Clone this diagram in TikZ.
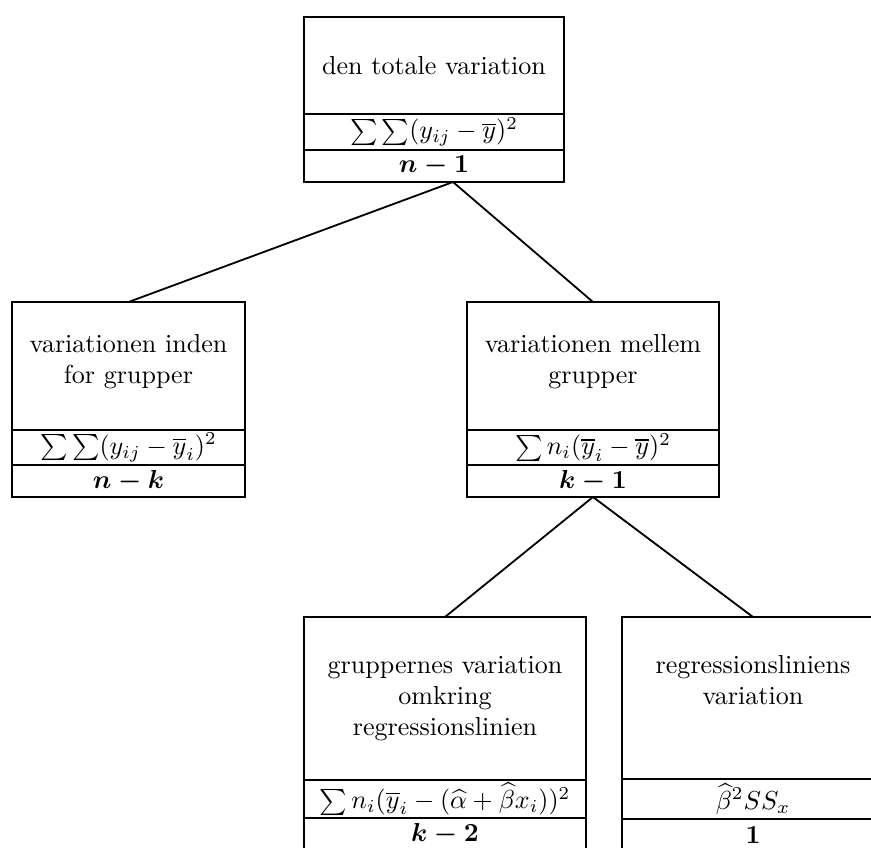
\documentclass[tikz,border=0pt]{standalone}
\usepackage{amsmath,amssymb}
\usetikzlibrary{positioning}
\newcommand\pxu{0.384pt}

\begin{document}
\begin{tikzpicture}[x=\pxu,y=-\pxu,
  varbox/.style={draw,line width=0.7pt,inner sep=0pt,outer sep=0pt,align=center},
  titlebox/.style 2 args={varbox,anchor=north,minimum width=#1*\pxu,minimum height=#2*\pxu},
  sumbox/.style 2 args={varbox,minimum width=#1*\pxu,minimum height=#2*\pxu},
  dfbox/.style={varbox,minimum width=#1*\pxu,minimum height=32*\pxu,font=\boldmath},
  link/.style={line width=0.7pt}]
\useasboundingbox (0,0) rectangle (871,848);
\clip (0,0) rectangle (871,848);
% total
\node[titlebox={260}{97}] (total) at (434,17) {den totale variation};
\node[sumbox={260}{36},below=0pt of total] (total-ss) {$\sum\sum(y_{ij}-\overline{y})^2$};
\node[dfbox=260,below=0pt of total-ss] (total-df) {$n-1$};
% within groups
\node[titlebox={233}{128},text depth=14*\pxu] (within) at (128.5,302) {variationen inden\\for grupper};
\node[sumbox={233}{35},below=0pt of within] (within-ss) {$\sum\sum(y_{ij}-\overline{y}_i)^2$};
\node[dfbox=233,below=0pt of within-ss] (within-df) {$n-k$};
% between groups
\node[titlebox={252}{128},text depth=14*\pxu] (between) at (593,302) {variationen mellem\\grupper};
\node[sumbox={252}{35},below=0pt of between] (between-ss) {$\sum n_i(\overline{y}_i-\overline{y})^2$};
\node[dfbox=252,below=0pt of between-ss] (between-df) {$k-1$};
% around the regression line
\node[titlebox={282}{163}] (residual) at (445,617) {gruppernes variation\\omkring\\regressionslinien};
\node[sumbox={282}{38},below=0pt of residual] (residual-ss) {$\sum n_i(\overline{y}_i-(\widehat{\alpha}+\widehat{\beta}x_i))^2$};
\node[dfbox=282,below=0pt of residual-ss] (residual-df) {$k-2$};
% regression line
\node[titlebox={262}{162},text depth=36*\pxu] (regression) at (753,617) {regressionsliniens\\variation};
\node[sumbox={262}{40},below=0pt of regression] (regression-ss) {$\widehat{\beta}^2 SS_x$};
\node[dfbox=262,below=0pt of regression-ss] (regression-df) {$1$};
% connectors
\coordinate (fork) at ([xshift=19*\pxu]total-df.south);
\draw[link] (fork) -- (within.north);
\draw[link] (fork) -- (between.north);
\draw[link] (between-df.south) -- (residual.north);
\draw[link] (between-df.south) -- (regression.north);
\end{tikzpicture}
\end{document}
